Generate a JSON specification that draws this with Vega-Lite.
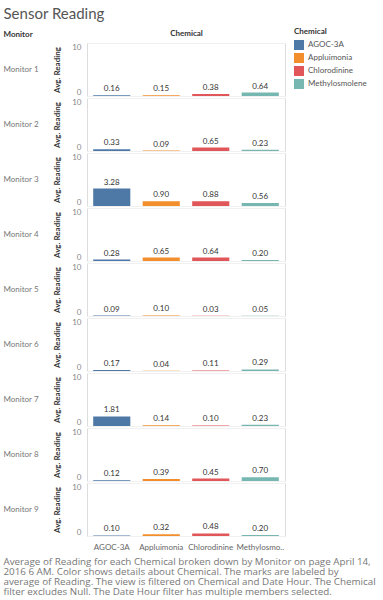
{
  "$schema": "https://vega.github.io/schema/vega-lite/v6.json",
  "padding": {"left": 3, "top": 7, "right": 2, "bottom": 2},
  "config": {
    "font": "Lato",
    "view": {"stroke": "#dddddd"},
    "axis": {"labelColor": "#777777", "labelFontSize": 8, "titleFontSize": 8, "titleColor": "#333333", "titleFontWeight": "bold", "domain": false, "ticks": false, "gridColor": "#f0f0f0"},
    "legend": {"labelColor": "#555555", "labelFontSize": 8, "titleFontSize": 8, "titleColor": "#333333", "titleFontWeight": "bold"}
  },
  "title": {
    "text": [
      "Average of Reading for each Chemical broken down by Monitor on page April 14,",
      "2016 6 AM.  Color shows details about Chemical.  The marks are labeled by",
      "average of Reading. The view is filtered on Chemical and Date Hour. The Chemical",
      "filter excludes Null. The Date Hour filter has multiple members selected."
    ],
    "orient": "bottom",
    "anchor": "start",
    "font": "Open Sans",
    "fontSize": 9.8,
    "fontWeight": "normal",
    "color": "#777777",
    "lineHeight": 10,
    "offset": 6
  },
  "vconcat": [
    {
      "title": {"text": "Sensor Reading", "anchor": "start", "fontSize": 15, "fontWeight": "normal", "color": "#555555", "offset": 7},
      "vconcat": [
        {
          "title": {"text": "Monitor", "anchor": "start", "fontSize": 8, "fontWeight": "bold", "color": "#333333", "offset": -10},
          "data": {
            "values": [
              {"Monitor": "Monitor 1", "Chemical": "AGOC-3A", "Reading": 0.16},
              {"Monitor": "Monitor 1", "Chemical": "Appluimonia", "Reading": 0.15},
              {"Monitor": "Monitor 1", "Chemical": "Chlorodinine", "Reading": 0.38},
              {"Monitor": "Monitor 1", "Chemical": "Methylosmolene", "Reading": 0.64},
              {"Monitor": "Monitor 2", "Chemical": "AGOC-3A", "Reading": 0.33},
              {"Monitor": "Monitor 2", "Chemical": "Appluimonia", "Reading": 0.09},
              {"Monitor": "Monitor 2", "Chemical": "Chlorodinine", "Reading": 0.65},
              {"Monitor": "Monitor 2", "Chemical": "Methylosmolene", "Reading": 0.23},
              {"Monitor": "Monitor 3", "Chemical": "AGOC-3A", "Reading": 3.28},
              {"Monitor": "Monitor 3", "Chemical": "Appluimonia", "Reading": 0.90},
              {"Monitor": "Monitor 3", "Chemical": "Chlorodinine", "Reading": 0.88},
              {"Monitor": "Monitor 3", "Chemical": "Methylosmolene", "Reading": 0.56},
              {"Monitor": "Monitor 4", "Chemical": "AGOC-3A", "Reading": 0.28},
              {"Monitor": "Monitor 4", "Chemical": "Appluimonia", "Reading": 0.65},
              {"Monitor": "Monitor 4", "Chemical": "Chlorodinine", "Reading": 0.64},
              {"Monitor": "Monitor 4", "Chemical": "Methylosmolene", "Reading": 0.20},
              {"Monitor": "Monitor 5", "Chemical": "AGOC-3A", "Reading": 0.09},
              {"Monitor": "Monitor 5", "Chemical": "Appluimonia", "Reading": 0.10},
              {"Monitor": "Monitor 5", "Chemical": "Chlorodinine", "Reading": 0.03},
              {"Monitor": "Monitor 5", "Chemical": "Methylosmolene", "Reading": 0.05},
              {"Monitor": "Monitor 6", "Chemical": "AGOC-3A", "Reading": 0.17},
              {"Monitor": "Monitor 6", "Chemical": "Appluimonia", "Reading": 0.04},
              {"Monitor": "Monitor 6", "Chemical": "Chlorodinine", "Reading": 0.11},
              {"Monitor": "Monitor 6", "Chemical": "Methylosmolene", "Reading": 0.29},
              {"Monitor": "Monitor 7", "Chemical": "AGOC-3A", "Reading": 1.81},
              {"Monitor": "Monitor 7", "Chemical": "Appluimonia", "Reading": 0.14},
              {"Monitor": "Monitor 7", "Chemical": "Chlorodinine", "Reading": 0.10},
              {"Monitor": "Monitor 7", "Chemical": "Methylosmolene", "Reading": 0.23},
              {"Monitor": "Monitor 8", "Chemical": "AGOC-3A", "Reading": 0.12},
              {"Monitor": "Monitor 8", "Chemical": "Appluimonia", "Reading": 0.39},
              {"Monitor": "Monitor 8", "Chemical": "Chlorodinine", "Reading": 0.45},
              {"Monitor": "Monitor 8", "Chemical": "Methylosmolene", "Reading": 0.70},
              {"Monitor": "Monitor 9", "Chemical": "AGOC-3A", "Reading": 0.10},
              {"Monitor": "Monitor 9", "Chemical": "Appluimonia", "Reading": 0.32},
              {"Monitor": "Monitor 9", "Chemical": "Chlorodinine", "Reading": 0.48},
              {"Monitor": "Monitor 9", "Chemical": "Methylosmolene", "Reading": 0.20}
            ]
          },
          "facet": {
            "row": {
              "field": "Monitor",
              "type": "nominal",
              "header": {
                "title": null,
                "labelAngle": 0,
                "labelAlign": "left",
                "labelFontSize": 8,
                "labelColor": "#777777",
                "labelPadding": 15
              }
            }
          },
          "spacing": 0,
          "spec": {
            "width": 198,
            "height": 53,
            "layer": [
              {
                "mark": {"type": "bar"},
                "encoding": {
                  "x": {
                    "field": "Chemical",
                    "type": "nominal",
                    "scale": {"paddingInner": 0.25, "paddingOuter": 0.125},
                    "axis": {"orient": "bottom", "title": null, "labelAngle": 0, "labelPadding": 6, "grid": false, "labelColor": "#666666", "labelExpr": "datum.label == 'Methylosmolene' ? 'Methylosmo..' : datum.label"}
                  },
                  "y": {
                    "field": "Reading",
                    "type": "quantitative",
                    "scale": {"domain": [0, 10], "nice": false},
                    "axis": {"title": "Avg. Reading", "values": [0, 5, 10], "labelFlush": true, "labelPadding": 5, "titlePadding": 10, "grid": true, "labelColor": "#888888"}
                  },
                  "color": {
                    "field": "Chemical",
                    "type": "nominal",
                    "scale": {"domain": ["AGOC-3A", "Appluimonia", "Chlorodinine", "Methylosmolene"], "range": ["#4e79a7", "#f28e2b", "#e15759", "#76b7b2"]},
                    "legend": {"title": "Chemical", "orient": "none", "legendX": 207, "legendY": -15, "symbolType": "square", "symbolSize": 100, "symbolStrokeWidth": 0, "rowPadding": 3, "titlePadding": 4}
                  }
                }
              },
              {
                "mark": {"type": "text", "baseline": "bottom", "dy": -2, "fontSize": 8, "color": "#333333"},
                "encoding": {
                  "x": {
                    "field": "Chemical",
                    "type": "nominal",
                    "axis": {"orient": "top", "title": "Chemical", "labels": false, "grid": false, "titlePadding": 5}
                  },
                  "y": {"field": "Reading", "type": "quantitative"},
                  "text": {"field": "Reading", "type": "quantitative", "format": ".2f"}
                }
              }
            ]
          }
        }
      ]
    }
  ]
}
